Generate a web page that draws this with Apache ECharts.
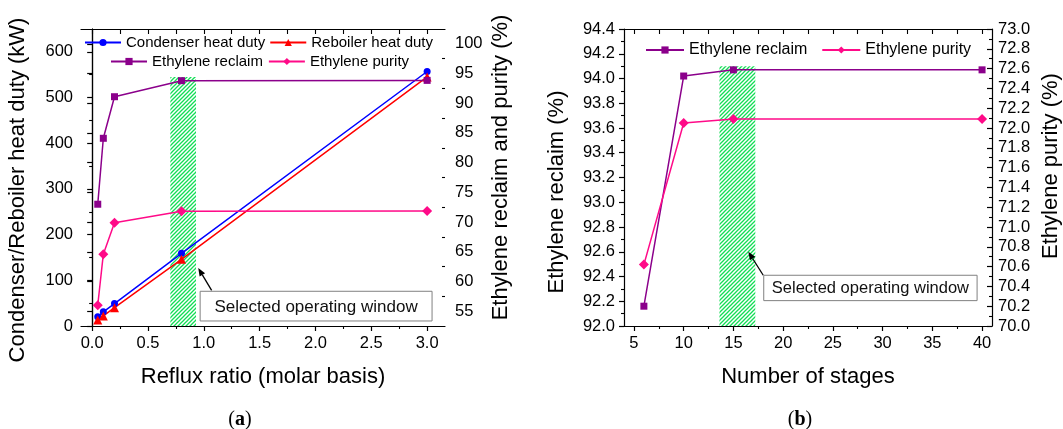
<!DOCTYPE html>
<html><head><meta charset="utf-8">
<script src="https://cdn.jsdelivr.net/npm/echarts@6/dist/echarts.min.js"></script>
<style>html,body{margin:0;padding:0;background:#fff}#c{width:1063px;height:429px}</style>
</head><body><div id="c"></div>
<script>
// ---------- DATA: panel (a) ----------
const refluxRatio   = [0.05, 0.1, 0.2, 0.8, 3.0];
const condenserDuty = [20, 31, 49, 159, 557];
const reboilerDuty  = [13, 22, 40, 146, 545];
const reclaimA      = [73.0, 84.1, 91.1, 93.8, 93.85];
const purityA       = [56.0, 64.6, 69.9, 71.8, 71.85];
// ---------- DATA: panel (b) ----------
const stages   = [6, 10, 15, 40];
const reclaimB = [92.16, 94.02, 94.07, 94.07];
const purityB  = [70.62, 72.05, 72.09, 72.09];
// ---------- TICKS ----------
const aXTicks  = [0.0, 0.5, 1.0, 1.5, 2.0, 2.5, 3.0];
const aXMinor  = [0.25, 0.75, 1.25, 1.75, 2.25, 2.75];
const aYTicks  = [0, 100, 200, 300, 400, 500, 600];
const aYMinor  = [50, 150, 250, 350, 450, 550];
const aY2Ticks = [55, 60, 65, 70, 75, 80, 85, 90, 95, 100];
const aY2Minor = [57.5, 62.5, 67.5, 72.5, 77.5, 82.5, 87.5, 92.5, 97.5];
const bXTicks  = [5, 10, 15, 20, 25, 30, 35, 40];
const bXMinor  = [7.5, 12.5, 17.5, 22.5, 27.5, 32.5, 37.5];
const bYTicks  = [92.0, 92.2, 92.4, 92.6, 92.8, 93.0, 93.2, 93.4, 93.6, 93.8, 94.0, 94.2, 94.4];
const bYMinor  = [92.1, 92.3, 92.5, 92.7, 92.9, 93.1, 93.3, 93.5, 93.7, 93.9, 94.1, 94.3];
const bY2Ticks = [70.0, 70.2, 70.4, 70.6, 70.8, 71.0, 71.2, 71.4, 71.6, 71.8, 72.0, 72.2, 72.4, 72.6, 72.8, 73.0];
const bY2Minor = [70.1, 70.3, 70.5, 70.7, 70.9, 71.1, 71.3, 71.5, 71.7, 71.9, 72.1, 72.3, 72.5, 72.7, 72.9];
// selected operating windows [x0, x1, y0, y1] in data units
const windowA = [0.7, 0.93, 0, 545];
const windowB = [13.6, 17.2, 92.0, 94.1];

// ---------- annotation layout (data units) ----------
const noteA = {box: [0.967, 3.044, 11, 76], from: [1.07, 78], to: [0.95, 127]};
const noteB = {box: [18.05, 39.5, 92.205, 92.41], from: [18.0, 92.41], to: [16.5, 92.6]};

const FONT = '"Liberation Sans", Arial, Helvetica, sans-serif';
const BLUE = '#0000ff', RED = '#ff0000', PURPLE = '#8b008b', PINK = '#ff0a88';

function hatchCanvas() {
  const c = document.createElement('canvas'); c.width = 4; c.height = 4;
  const g = c.getContext('2d');
  g.strokeStyle = '#12dd55'; g.lineWidth = 1.3;
  g.beginPath();
  g.moveTo(0, 4); g.lineTo(4, 0);
  g.moveTo(-1, 1); g.lineTo(1, -1);
  g.moveTo(3, 5); g.lineTo(5, 3);
  g.stroke();
  return c;
}
const hatch = {image: hatchCanvas(), repeat: 'repeat'};

function windowRender(win) {
  return function (params, api) {
    const p0 = api.coord([win[0], win[3]]);
    const p1 = api.coord([win[1], win[2]]);
    return {type: 'rect', shape: {x: p0[0], y: p0[1], width: p1[0] - p0[0], height: p1[1] - p0[1]},
            style: {fill: hatch}};
  };
}
function noteRender(note, fs) {
  return function (params, api) {
    const p0 = api.coord([note.box[0], note.box[3]]);
    const p1 = api.coord([note.box[1], note.box[2]]);
    const a0 = api.coord(note.from), a1 = api.coord(note.to);
    const ang = Math.atan2(a1[1] - a0[1], a1[0] - a0[0]);
    const L = 8, W = 3.2;
    const hb = [a1[0] - L * Math.cos(ang), a1[1] - L * Math.sin(ang)];
    const head = [a1, [hb[0] + W * Math.sin(ang), hb[1] - W * Math.cos(ang)],
                      [hb[0] - W * Math.sin(ang), hb[1] + W * Math.cos(ang)]];
    return {type: 'group', children: [
      {type: 'line', shape: {x1: a0[0], y1: a0[1], x2: hb[0], y2: hb[1]}, style: {stroke: '#000', lineWidth: 1.3}},
      {type: 'polygon', shape: {points: head}, style: {fill: '#000'}},
      {type: 'rect', shape: {x: p0[0], y: p0[1], width: p1[0] - p0[0], height: p1[1] - p0[1]},
       style: {fill: '#fff', stroke: '#808080', lineWidth: 1}},
      {type: 'text', x: (p0[0] + p1[0]) / 2, y: (p0[1] + p1[1]) / 2 + 1,
       style: {text: 'Selected operating window', fill: '#111', fontSize: fs, fontFamily: FONT,
               align: 'center', verticalAlign: 'middle'}}
    ]};
  };
}

const axLine = {show: true, lineStyle: {color: '#000', width: 1.2}};
const noLine = {show: false};
function mainX(grid, min, max, ticks, fmt, name, gap) {
  return {type: 'value', gridIndex: grid, position: 'bottom', min, max, splitLine: {show: false},
    axisLine: axLine, axisTick: {show: true, inside: false, length: 5, customValues: ticks, lineStyle: {color: '#000', width: 1.2}},
    axisLabel: {customValues: ticks, formatter: fmt, color: '#000', fontSize: 16.5, fontFamily: FONT, margin: 9,
                showMinLabel: true, showMaxLabel: true},
    name, nameLocation: 'middle', nameGap: gap, nameTextStyle: {color: '#000', fontSize: 22, fontFamily: FONT}};
}
function minorAxis(type, grid, position, min, max, ticks, inside) {
  return {type: 'value', gridIndex: grid, position, min, max, splitLine: {show: false},
    axisLine: noLine, axisLabel: {show: false},
    axisTick: {show: true, inside, length: 3, customValues: ticks, lineStyle: {color: '#000', width: 1.1}}};
}
function mainY(grid, position, min, max, ticks, fmt, inside, margin, name, gap, pad) {
  return {type: 'value', gridIndex: grid, position, min, max, splitLine: {show: false},
    axisLine: axLine, axisTick: {show: true, inside, length: 5, customValues: ticks, lineStyle: {color: '#000', width: 1.2}},
    axisLabel: {customValues: ticks, formatter: fmt, color: '#000', fontSize: 16.5, fontFamily: FONT, margin,
                showMinLabel: true, showMaxLabel: true},
    name, nameLocation: 'middle', nameRotate: 90, nameGap: gap,
    nameTextStyle: {color: '#000', fontSize: 22, fontFamily: FONT, padding: pad}};
}
const f1 = v => v.toFixed(1), f0 = v => v.toFixed(0);

function lineSeries(name, xi, yi, xs, ys, color, symbol, size) {
  return {type: 'line', name, xAxisIndex: xi, yAxisIndex: yi, data: xs.map((x, i) => [x, ys[i]]),
    symbol, symbolSize: size, z: 5, itemStyle: {color}, lineStyle: {color, width: 1.5}, animation: false};
}

const chart = echarts.init(document.getElementById('c'), null, {renderer: 'canvas'});
chart.setOption({
  animation: false,
  backgroundColor: '#fff',
  textStyle: {fontFamily: FONT},
  grid: [
    {left: 81, top: 29, width: 364, height: 297},
    {left: 624, top: 29, width: 369, height: 297}
  ],
  legend: [
    {data: ['Condenser heat duty', 'Reboiler heat duty'], left: 84, top: 35, itemWidth: 36, itemHeight: 9, itemGap: 4,
     textStyle: {fontSize: 15, color: '#000', fontFamily: FONT}, padding: 0},
    {data: ['Ethylene reclaim', 'Ethylene purity'], left: 110, top: 54, itemWidth: 36, itemHeight: 9, itemGap: 5,
     textStyle: {fontSize: 15, color: '#000', fontFamily: FONT}, padding: 0},
    {data: ['Ethylene reclaim', 'Ethylene purity'], left: 645, top: 42, itemWidth: 38, itemHeight: 9, itemGap: 14,
     textStyle: {fontSize: 16, color: '#000', fontFamily: FONT}, padding: 0}
  ],
  title: [
    {text: '({a|a})', left: 235, top: 405, textAlign: 'center',
     textStyle: {fontFamily: '"Liberation Serif", "Times New Roman", serif', fontSize: 20, fontWeight: 'normal', color: '#000',
                 rich: {a: {fontFamily: '"Liberation Serif", serif', fontSize: 20, fontWeight: 'bold', color: '#000'}}}},
    {text: '({a|b})', left: 795, top: 405, textAlign: 'center',
     textStyle: {fontFamily: '"Liberation Serif", "Times New Roman", serif', fontSize: 20, fontWeight: 'normal', color: '#000',
                 rich: {a: {fontFamily: '"Liberation Serif", serif', fontSize: 20, fontWeight: 'bold', color: '#000'}}}}
  ],
  xAxis: [
    mainX(0, -0.1, 3.16, aXTicks, f1, 'Reflux ratio (molar basis)', 40),
    minorAxis('x', 0, 'bottom', -0.1, 3.16, aXMinor, false),
    {type: 'value', gridIndex: 0, position: 'top', min: -0.1, max: 3.16, splitLine: {show: false}, axisLine: axLine,
     axisLabel: {show: false}, axisTick: {show: true, inside: true, length: 5, customValues: aXTicks.concat(aXMinor), lineStyle: {color: '#000', width: 1.1}}},
    mainX(1, 4, 41, bXTicks, f0, 'Number of stages', 40),
    minorAxis('x', 1, 'bottom', 4, 41, bXMinor, false),
    {type: 'value', gridIndex: 1, position: 'top', min: 4, max: 41, splitLine: {show: false}, axisLine: axLine,
     axisLabel: {show: false}, axisTick: {show: true, inside: true, length: 5, customValues: bXTicks.concat(bXMinor), lineStyle: {color: '#000', width: 1.1}}}
  ],
  yAxis: [
    mainY(0, 'left', 0, 650, aYTicks, f0, false, 8, 'Condenser/Reboiler heat duty (kW)', 52, [0, 25, 0, 0]),
    minorAxis('y', 0, 'left', 0, 650, aYMinor, false),
    mainY(0, 'right', 52.5, 102.5, aY2Ticks, f0, true, 10, 'Ethylene reclaim and purity (%)', 45, [0, 0, 0, 20]),
    minorAxis('y', 0, 'right', 52.5, 102.5, aY2Minor, true),
    mainY(1, 'left', 92.0, 94.4, bYTicks, f1, false, 9, 'Ethylene reclaim (%)', 56, [0, 29, 0, 0]),
    minorAxis('y', 1, 'left', 92.0, 94.4, bYMinor, false),
    mainY(1, 'right', 70.0, 73.0, bY2Ticks, f1, true, 6, 'Ethylene purity (%)', 48, [0, 0, 0, 23]),
    minorAxis('y', 1, 'right', 70.0, 73.0, bY2Minor, true)
  ],
  series: [
    {type: 'custom', name: 'windowA', xAxisIndex: 0, yAxisIndex: 0, data: [[windowA[0], windowA[2]]],
     renderItem: windowRender(windowA), z: 1, clip: false, silent: true},
    {type: 'custom', name: 'windowB', xAxisIndex: 3, yAxisIndex: 4, data: [[windowB[0], windowB[2]]],
     renderItem: windowRender(windowB), z: 1, clip: false, silent: true},
    lineSeries('Condenser heat duty', 0, 0, refluxRatio, condenserDuty, BLUE, 'circle', 7),
    lineSeries('Reboiler heat duty', 0, 0, refluxRatio, reboilerDuty, RED, 'triangle', 9),
    lineSeries('Ethylene reclaim', 0, 2, refluxRatio, reclaimA, PURPLE, 'rect', 7),
    lineSeries('Ethylene purity', 0, 2, refluxRatio, purityA, PINK, 'diamond', 10),
    lineSeries('Ethylene reclaim', 3, 4, stages, reclaimB, PURPLE, 'rect', 7),
    lineSeries('Ethylene purity', 3, 6, stages, purityB, PINK, 'diamond', 10),
    {type: 'custom', name: 'noteA', xAxisIndex: 0, yAxisIndex: 0, data: [[noteA.box[0], noteA.box[2]]],
     renderItem: noteRender(noteA, 17), z: 6, clip: false, silent: true},
    {type: 'custom', name: 'noteB', xAxisIndex: 3, yAxisIndex: 4, data: [[noteB.box[0], noteB.box[2]]],
     renderItem: noteRender(noteB, 16.5), z: 6, clip: false, silent: true}
  ]
});
</script>
</body></html>
